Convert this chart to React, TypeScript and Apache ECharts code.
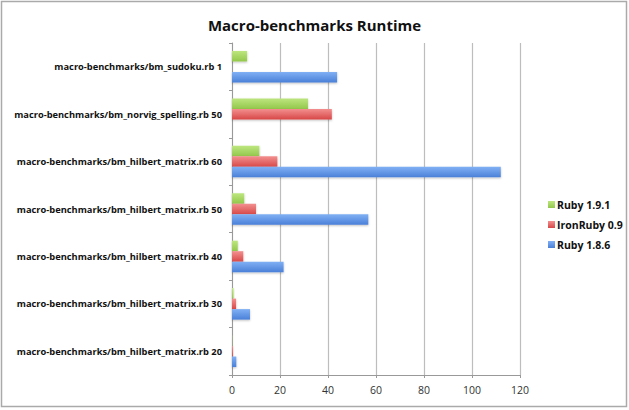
import { useEffect, useRef } from 'react';
import * as echarts from 'echarts';

// categories, bottom to top as ECharts draws a category y axis
const categories = [
  'macro-benchmarks/bm_hilbert_matrix.rb 20',
  'macro-benchmarks/bm_hilbert_matrix.rb 30',
  'macro-benchmarks/bm_hilbert_matrix.rb 40',
  'macro-benchmarks/bm_hilbert_matrix.rb 50',
  'macro-benchmarks/bm_hilbert_matrix.rb 60',
  'macro-benchmarks/bm_norvig_spelling.rb 50',
  'macro-benchmarks/bm_sudoku.rb 1',
];

const ruby186 = [1.8, 7.5, 21.5, 56.8, 112, null, 43.8];
const ironRuby09 = [0.4, 1.7, 4.7, 10, 18.9, 41.6, null];
const ruby191 = [0.1, 0.6, 2.4, 5.1, 11.4, 31.7, 6.3];

const xTicks = [0, 20, 40, 60, 80, 100, 120];

const FONT = '"Open Sans", "DejaVu Sans", sans-serif';

function grad(top: string, bottom: string) {
  return new echarts.graphic.LinearGradient(0, 0, 0, 1, [
    { offset: 0, color: top },
    { offset: 1, color: bottom },
  ]);
}

export default function App() {
  const chartRef = useRef<HTMLDivElement>(null);

  useEffect(() => {
    if (!chartRef.current) return;
    document.body.style.margin = '0';
    const chart = echarts.init(chartRef.current, null, { renderer: 'svg' });

    const barStyle = (top: string, bottom: string) => ({
      color: grad(top, bottom),
      shadowColor: 'rgba(0,0,0,0.25)',
      shadowBlur: 2,
      shadowOffsetY: 1,
    });

    chart.setOption({
      animation: false,
      backgroundColor: '#fff',
      textStyle: { fontFamily: FONT },
      title: {
        text: 'Macro-benchmarks Runtime',
        left: 'center',
        top: 12,
        textStyle: { fontSize: 15, fontWeight: 'bold', color: '#111', fontFamily: FONT },
      },
      graphic: [
        {
          type: 'rect',
          shape: { x: 1.5, y: 1.5, width: 625, height: 405 },
          style: { fill: 'none', stroke: '#aaaaaa', lineWidth: 1.5 },
          silent: true,
        },
      ],
      legend: {
        orient: 'vertical',
        left: 543,
        top: 194,
        itemWidth: 7,
        itemHeight: 7,
        itemGap: 9,
        icon: 'rect',
        data: ['Ruby 1.9.1', 'IronRuby 0.9', 'Ruby 1.8.6'],
        textStyle: { fontSize: 10.5, fontWeight: 'bold', color: '#111', padding: [0, 0, 0, -3] },
      },
      grid: { left: 232, right: 109, top: 43, bottom: 35, containLabel: false },
      xAxis: {
        type: 'value',
        min: 0,
        max: xTicks[xTicks.length - 1],
        interval: xTicks[1] - xTicks[0],
        axisLine: { show: true, lineStyle: { color: '#999' } },
        axisTick: { show: true, length: 3, lineStyle: { color: '#999' } },
        axisLabel: { color: '#333', fontSize: 10.5, margin: 9 },
        splitLine: { show: true, lineStyle: { color: '#bdbdbd', width: 1.2 } },
      },
      yAxis: {
        type: 'category',
        data: categories,
        axisLine: { show: true, lineStyle: { color: '#999' } },
        axisTick: { show: true, length: 3, lineStyle: { color: '#999' } },
        axisLabel: { color: '#111', fontSize: 9.3, fontWeight: 'bold', margin: 10, padding: [6, 0, 0, 0] },
      },
      series: [
        {
          name: 'Ruby 1.9.1',
          type: 'bar',
          data: ruby191,
          barWidth: 10.5,
          barGap: '0%',
          itemStyle: barStyle('#bde67f', '#93c74c'),
        },
        {
          name: 'IronRuby 0.9',
          type: 'bar',
          data: ironRuby09,
          barWidth: 10.5,
          barGap: '0%',
          itemStyle: barStyle('#f39090', '#d84848'),
        },
        {
          name: 'Ruby 1.8.6',
          type: 'bar',
          data: ruby186,
          barWidth: 10.5,
          barGap: '0%',
          itemStyle: barStyle('#80b0f4', '#4a80d8'),
        },
      ],
    });

    return () => chart.dispose();
  }, []);

  return <div ref={chartRef} style={{ width: 629, height: 410 }} />;
}
